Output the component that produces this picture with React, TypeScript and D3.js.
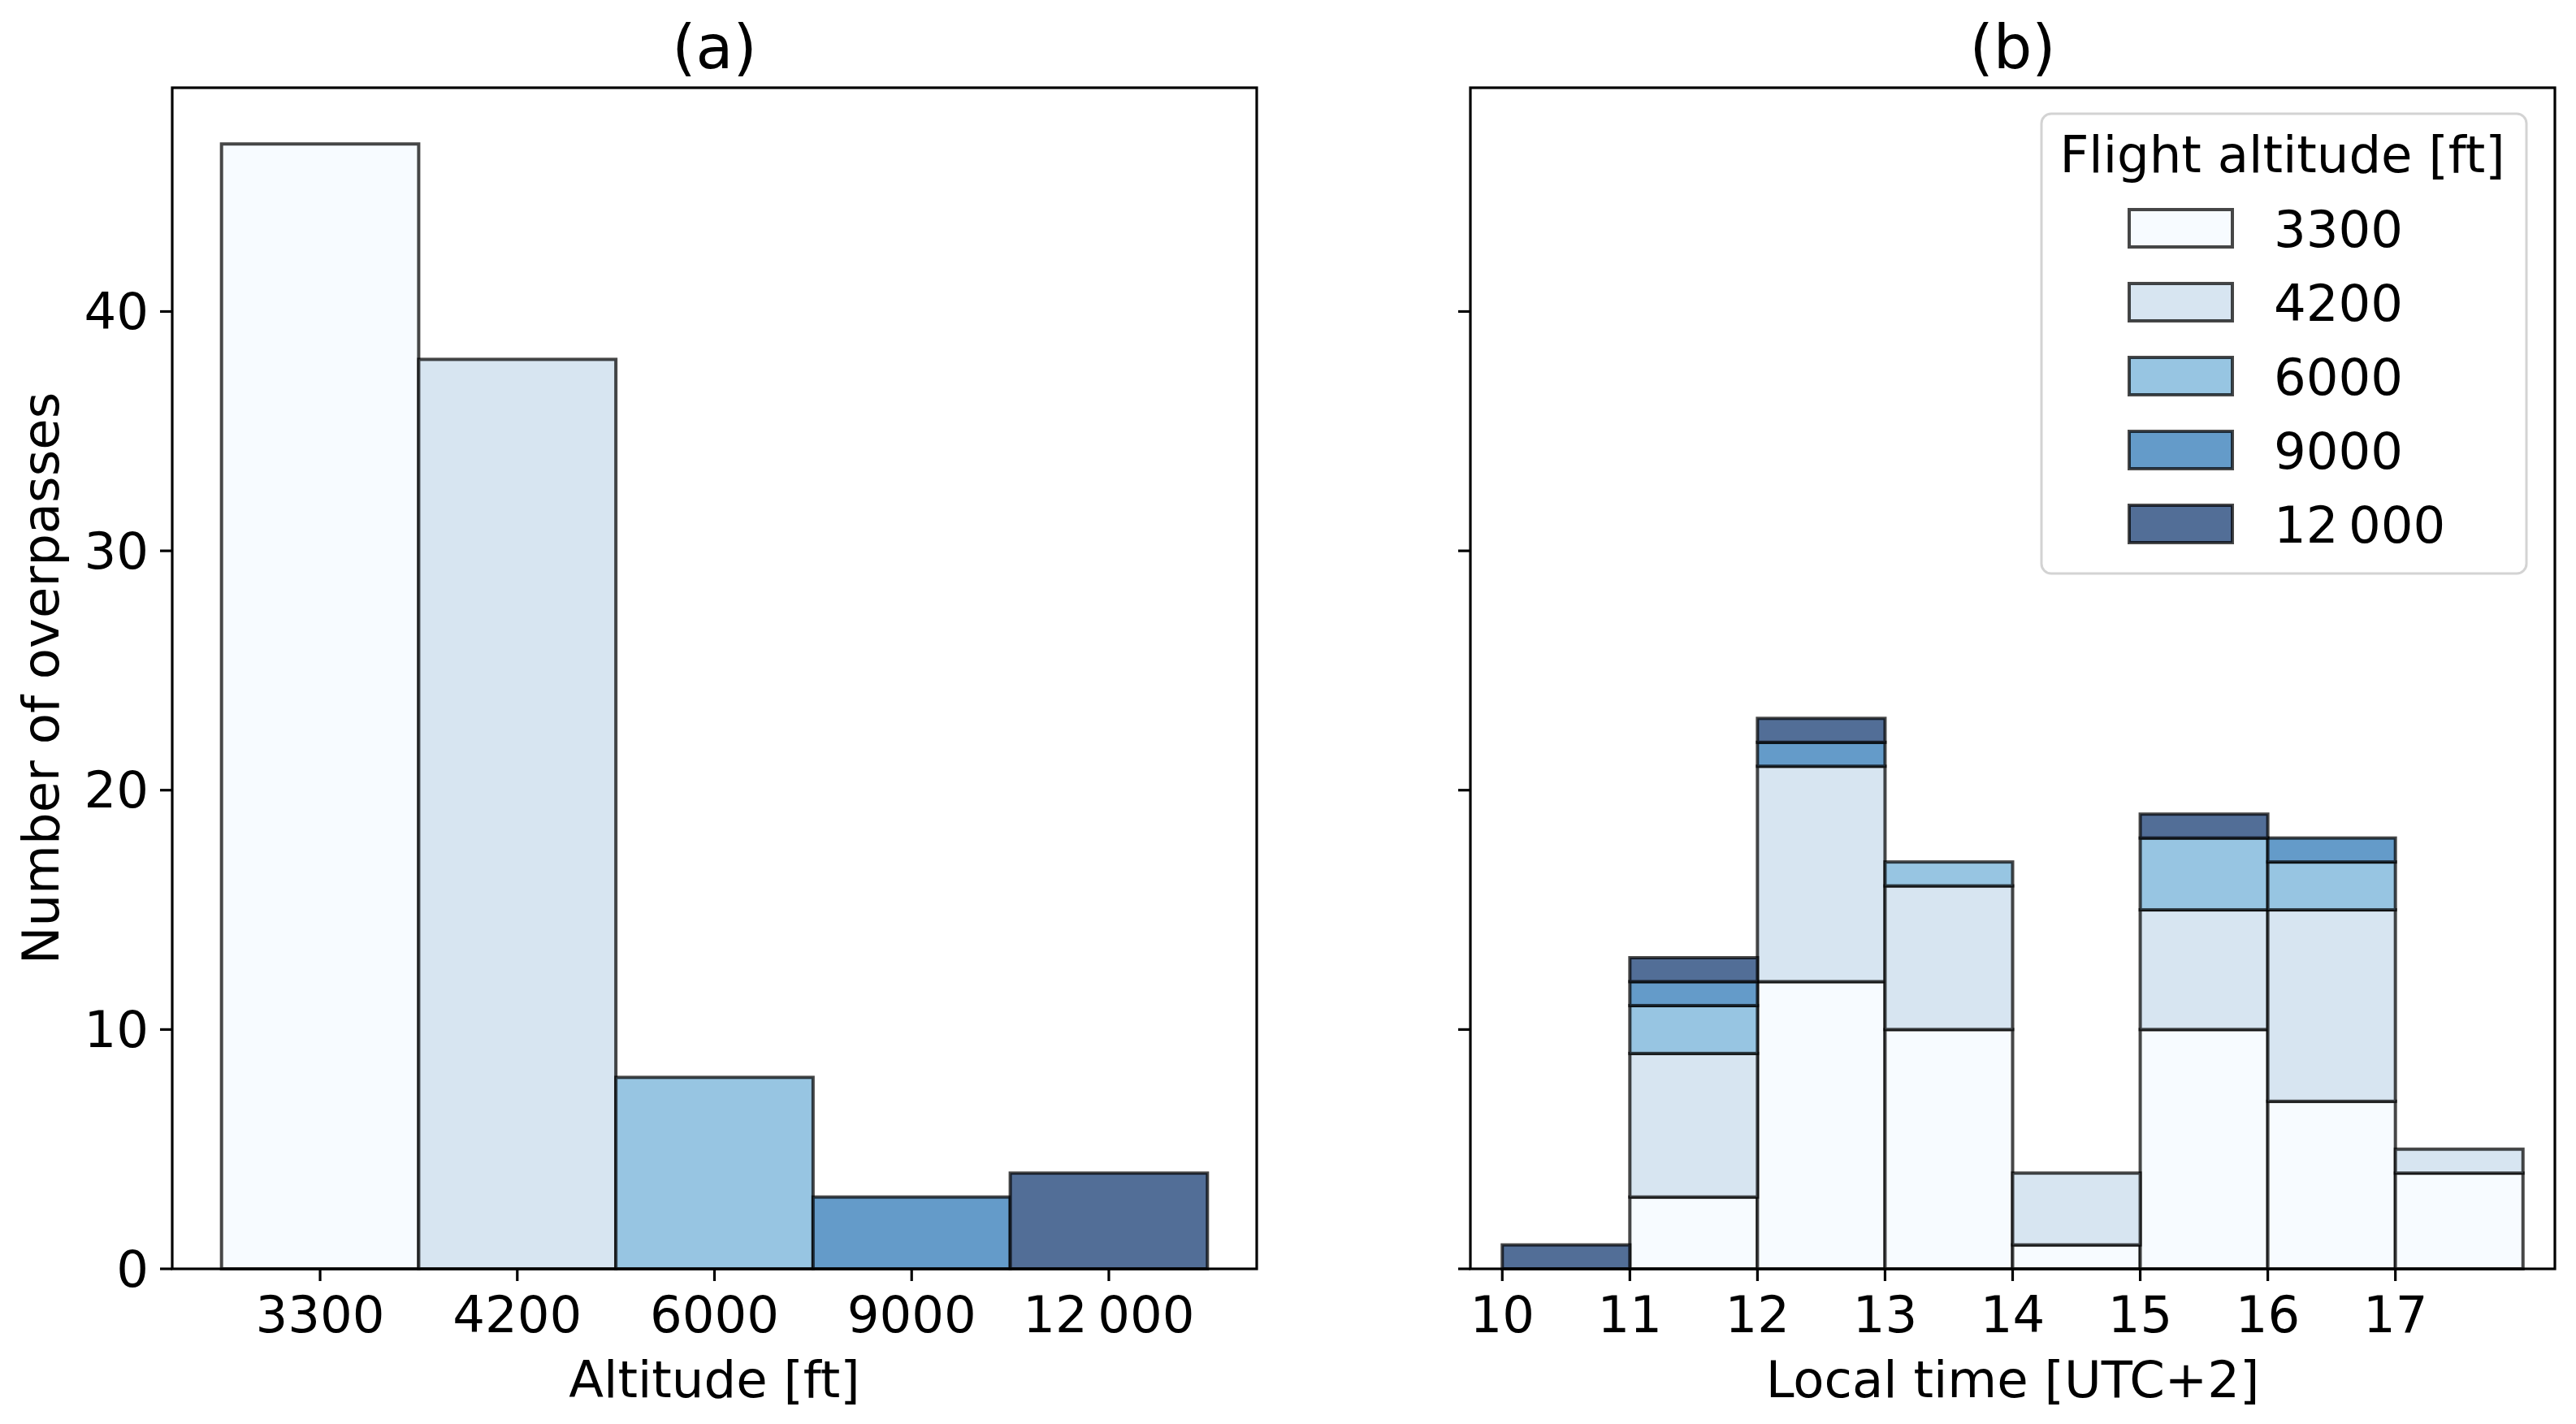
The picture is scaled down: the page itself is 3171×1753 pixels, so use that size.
import React from "react";
import * as d3 from "d3";

// ---- data ----
const altitudeLabels = ["3300", "4200", "6000", "9000", "12\u2009000"];
const altitudeCounts = [47, 38, 8, 3, 4];
const hourBins = [10, 11, 12, 13, 14, 15, 16, 17];
const counts3300 = [0, 3, 12, 10, 1, 10, 7, 4];
const counts4200 = [0, 6, 9, 6, 3, 5, 8, 1];
const counts6000 = [0, 2, 0, 1, 0, 3, 2, 0];
const counts9000 = [0, 1, 1, 0, 0, 0, 1, 0];
const counts12000 = [1, 1, 1, 0, 0, 1, 0, 0];
const seriesCounts = [counts3300, counts4200, counts6000, counts9000, counts12000];
const colors = ["#f7fbff", "#d7e5f1", "#97c5e2", "#649bc9", "#526e97"];
const yTicks = [0, 10, 20, 30, 40];
const xTicksB = [10, 11, 12, 13, 14, 15, 16, 17];
const titles = ["(a)", "(b)"];
const xLabels = ["Altitude [ft]", "Local time [UTC+2]"];
const yLabel = "Number of overpasses";
const legendTitle = "Flight altitude [ft]";

const W = 3171;
const H = 1753;
const FONT = "DejaVu Sans";
const FS = 62.5;
const TOP = 108;
const BOTTOM = 1562;
const A_LEFT = 212;
const A_RIGHT = 1547;
const B_LEFT = 1810;
const B_RIGHT = 3145;
const EDGE = "rgba(0,0,0,0.72)";

export default function App() {
  const y = d3.scaleLinear().domain([0, 49.35]).range([BOTTOM, TOP]);
  const xa = d3.scaleLinear().domain([-0.75, 4.75]).range([A_LEFT, A_RIGHT]);
  const xb = d3.scaleLinear().domain([9.75, 18.25]).range([B_LEFT, B_RIGHT]);

  const table = hourBins.map((h, i) => {
    const row: any = { hour: h };
    altitudeLabels.forEach((a, k) => (row[a] = seriesCounts[k][i]));
    return row;
  });
  const stacked = d3.stack().keys(altitudeLabels)(table);

  const tickLen = 15;
  const lw = 3.2;
  const bw = 4;

  const axisFrame = (l: number, r: number, showLabels: boolean) => (
    <g>
      {yTicks.map((t) => (
        <g key={t}>
          <line x1={l - tickLen} x2={l} y1={y(t)} y2={y(t)} stroke="#000" strokeWidth={lw} />
          {showLabels && (
            <text x={l - tickLen - 14} y={y(t)} textAnchor="end" dominantBaseline="central" fontSize={FS} fontFamily={FONT}>
              {t}
            </text>
          )}
        </g>
      ))}
      <rect x={l} y={TOP} width={r - l} height={BOTTOM - TOP} fill="none" stroke="#000" strokeWidth={lw} />
    </g>
  );

  const lx = 2513, lr = 3110, ly = 140, lb = 706;
  const patchX = 2621, patchW = 127, patchH = 46, patchY0 = 258, patchStep = 91;

  return (
    <svg width={W} height={H} style={{ position: "absolute", left: 0, top: 0, display: "block", background: "#fff" }} fontFamily={FONT}>
      <rect width={W} height={H} fill="#fff" />
      {/* Panel a bars */}
      {altitudeCounts.map((c, i) => (
        <rect key={i} x={xa(i - 0.5)} y={y(c)} width={xa(i + 0.5) - xa(i - 0.5)} height={y(0) - y(c)} fill={colors[i]} stroke={EDGE} strokeWidth={bw} />
      ))}
      {axisFrame(A_LEFT, A_RIGHT, true)}
      {altitudeLabels.map((a, i) => (
        <g key={a}>
          <line x1={xa(i)} x2={xa(i)} y1={BOTTOM} y2={BOTTOM + tickLen} stroke="#000" strokeWidth={lw} />
          <text x={xa(i)} y={1640} textAnchor="middle" fontSize={FS}>{a}</text>
        </g>
      ))}
      <text x={(A_LEFT + A_RIGHT) / 2} y={84} textAnchor="middle" fontSize={75}>{titles[0]}</text>
      <text x={(A_LEFT + A_RIGHT) / 2} y={1720} textAnchor="middle" fontSize={FS}>{xLabels[0]}</text>
      <text transform={`translate(72,${(TOP + BOTTOM) / 2}) rotate(-90)`} textAnchor="middle" fontSize={FS}>{yLabel}</text>

      {/* Panel b stacked bars */}
      {stacked.map((s, k) => (
        <g key={k}>
          {s.map((d, i) =>
            d[1] - d[0] > 0 ? (
              <rect key={i} x={xb(hourBins[i])} y={y(d[1])} width={xb(hourBins[i] + 1) - xb(hourBins[i])} height={y(d[0]) - y(d[1])} fill={colors[k]} stroke={EDGE} strokeWidth={bw} />
            ) : null
          )}
        </g>
      ))}
      {axisFrame(B_LEFT, B_RIGHT, false)}
      {xTicksB.map((t) => (
        <g key={t}>
          <line x1={xb(t)} x2={xb(t)} y1={BOTTOM} y2={BOTTOM + tickLen} stroke="#000" strokeWidth={lw} />
          <text x={xb(t)} y={1640} textAnchor="middle" fontSize={FS}>{t}</text>
        </g>
      ))}
      <text x={(B_LEFT + B_RIGHT) / 2} y={84} textAnchor="middle" fontSize={75}>{titles[1]}</text>
      <text x={(B_LEFT + B_RIGHT) / 2} y={1720} textAnchor="middle" fontSize={FS}>{xLabels[1]}</text>

      {/* Legend */}
      <rect x={lx} y={ly} width={lr - lx} height={lb - ly} rx={12} ry={12} fill="rgba(255,255,255,0.8)" stroke="#d3d3d3" strokeWidth={3} />
      <text x={(lx + lr) / 2 - 2} y={212} textAnchor="middle" fontSize={FS}>{legendTitle}</text>
      {altitudeLabels.map((a, k) => (
        <g key={a}>
          <rect x={patchX} y={patchY0 + k * patchStep} width={patchW} height={patchH} fill={colors[k]} stroke={EDGE} strokeWidth={bw} />
          <text x={2799} y={patchY0 + k * patchStep + patchH / 2 + 23} fontSize={FS}>{a}</text>
        </g>
      ))}
    </svg>
  );
}
